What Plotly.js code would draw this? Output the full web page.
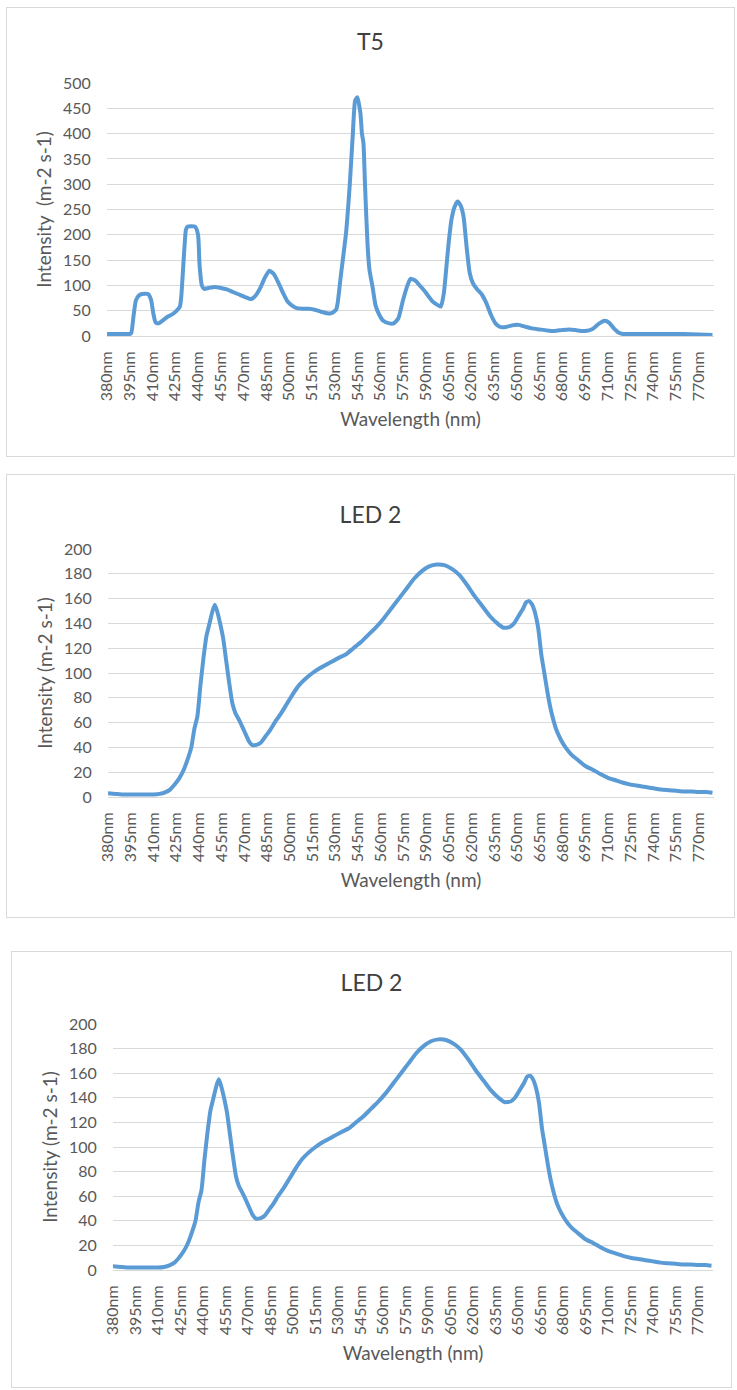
<!DOCTYPE html>
<html>
<head>
<meta charset="utf-8">
<script src="https://cdn.plot.ly/plotly-3.0.1.min.js"></script>
<style>
  html, body { margin: 0; padding: 0; background: #ffffff; width: 737px; height: 1390px; overflow: hidden; }
  .panel { position: absolute; border: 1px solid #d9d9d9; background: #ffffff; box-sizing: border-box; }
</style>
</head>
<body>
<div id="p1" class="panel" style="left:6px; top:7px; width:729px; height:450px;"></div>
<div id="p2" class="panel" style="left:6px; top:474px; width:729px; height:444px;"></div>
<div id="p3" class="panel" style="left:11px; top:951px; width:721px; height:437px;"></div>
<script>
// ---- Data ----
const tickValues = [380,395,410,425,440,455,470,485,500,515,530,545,560,575,590,605,620,635,650,665,680,695,710,725,740,755,770];
const tickLabels = ["380nm","395nm","410nm","425nm","440nm","455nm","470nm","485nm","500nm","515nm","530nm","545nm","560nm","575nm","590nm","605nm","620nm","635nm","650nm","665nm","680nm","695nm","710nm","725nm","740nm","755nm","770nm"];

const t5Wavelength = [380,388,395,396,397.5,399,401,403,407,409,410.5,412,414,419,424,428,429,430.5,432,433,438,440,441,442.5,444,447,451,455,459,463,467,471,475,478,481,484,487,490,493,496,499,502,505,509,513,517,521,525,528,531,532,534,537.5,540,542,543.5,545,547,548,549,550,551.7,553,555,557,559.4,562,566,569,572,575,578,580,583,586,589,592,595,598,600,602,603,605,607,609,611,613,615,617,619,621,624,627,630,633,636,639,643,647,651,655,660,665,670,675,680,685,690,695,700,704,708,711,714,717,720,730,740,750,760,770,779];
const t5Intensity  = [4,4,4,6,40,70,80,83,83,72,45,27,25,36,45,58,80,150,210,216,216,200,140,100,93,95,97,95,92,87,82,77,73,80,95,115,129,122,105,85,68,60,55,54,54,52,48,45,45,52,65,117,203,300,400,465,472,440,400,381,300,180,130,97,60,42,30,25,25,35,70,100,113,110,100,90,78,67,61,58,85,115,180,230,255,266,258,235,175,125,105,92,82,65,42,25,18,18,21,22,19,15,13,11,10,12,13,11,10,14,24,30,26,15,7,4,4,4,4,4,3,2];

const led2Wavelength = [380,385,390,400,410,414,418,421,424,427,430,433,435,437,439,441,443,445,447,449,450.5,452,454,456,458,460,462,464,467,470,473,475,478,481,484,487,490,494,498,502,506,510,515,520,526,532,537,542,547,552,557,562,567,572,577,582,587,592,597,602,607,612,617,622,627,632,637,641,645,648,651,654,656,658,660,662,664,666,668,670,672,674,676,679,682,686,690,695,700,705,710,715,720,725,730,735,740,745,750,755,760,765,770,775,779];
const led2Intensity  = [3,2.5,2,2,2,2.5,4,6,10,15,22,32,40,55,65,90,112,130,140,150,155,150,140,128,110,92,76,68,61,53,45,42,42,44,49,54,60,67,75,83,90,95,100,104,108,112,115,120,125,131,137,144,152,160,168,176,182,186,187.5,187,184,179,171,162,154,146,140,136.5,137,140,146,152,157,158,155,148,136,115,100,85,72,62,54,46,40,34,30,25,22,18.5,15.5,13.5,11.5,10,9,8,7,6,5.5,5,4.5,4.5,4,4,3.5];

const chartTitles = ["T5", "LED 2", "LED 2"];
const yTitles = ["Intensity  (m-2 s-1)", "Intensity (m-2 s-1)", "Intensity (m-2 s-1)"];
const xTitle = "Wavelength (nm)";

// ---- Styling ----
const FONT = "Lato, 'Open Sans', sans-serif";
const GREY = "#595959";
const LINE = "#5B9BD5";

function makeChart(id, xs, ys, title, yTitle, yMax, yStep, m, titleY) {
  const trace = {
    x: xs, y: ys, type: "scatter", mode: "lines",
    line: { color: LINE, width: 4, shape: "spline", smoothing: 0.5 },
    hoverinfo: "skip"
  };
  const layout = {
    width: m.w, height: m.h,
    margin: { l: m.l, r: m.r, t: m.t, b: m.b, pad: 0 },
    paper_bgcolor: "#ffffff", plot_bgcolor: "#ffffff",
    showlegend: false,
    font: { family: FONT, color: GREY },
    title: {
      text: title, font: { family: FONT, size: 23, color: "#404040" },
      x: 0.5, xref: "container", xanchor: "center",
      y: titleY, yref: "container", yanchor: "middle"
    },
    xaxis: {
      range: [380, 780], tickmode: "array", tickvals: tickValues, ticktext: tickLabels,
      tickangle: -90, tickfont: { family: FONT, size: 16, color: GREY },
      ticks: "outside", ticklen: 8, tickcolor: "rgba(0,0,0,0)",
      showgrid: false, zeroline: false, showline: true, linecolor: "#d9d9d9", linewidth: 1,
      automargin: false,
      title: { text: xTitle, font: { family: FONT, size: 19, color: GREY }, standoff: 12 }
    },
    yaxis: {
      range: [0, yMax], dtick: yStep, tick0: 0,
      tickfont: { family: FONT, size: 16, color: GREY },
      ticks: "outside", ticklen: 12, tickcolor: "rgba(0,0,0,0)",
      showgrid: true, gridcolor: "#d9d9d9", gridwidth: 1,
      zeroline: false, showline: false, automargin: false,
      title: { text: yTitle, font: { family: FONT, size: 19, color: GREY }, standoff: 6 }
    }
  };
  Plotly.newPlot(id, [trace], layout, { staticPlot: true, displayModeBar: false });
}

makeChart("p1", t5Wavelength, t5Intensity, chartTitles[0], yTitles[0], 500, 50,
  { w: 727, h: 448, l: 100, r: 20, t: 75, b: 120 }, 1 - 34 / 448);
makeChart("p2", led2Wavelength, led2Intensity, chartTitles[1], yTitles[1], 200, 20,
  { w: 727, h: 442, l: 101, r: 20, t: 74, b: 120 }, 1 - 40 / 442);
makeChart("p3", led2Wavelength, led2Intensity, chartTitles[2], yTitles[2], 200, 20,
  { w: 719, h: 435, l: 101, r: 18, t: 72, b: 117 }, 1 - 31 / 435);
</script>
</body>
</html>
